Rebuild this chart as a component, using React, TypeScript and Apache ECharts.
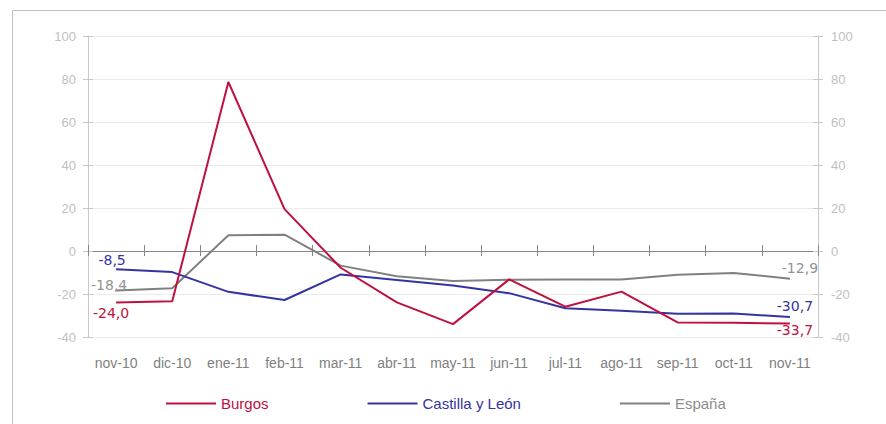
import React, { useEffect, useRef } from "react";
import * as echarts from "echarts";

const categories = ["nov-10", "dic-10", "ene-11", "feb-11", "mar-11", "abr-11", "may-11", "jun-11", "jul-11", "ago-11", "sep-11", "oct-11", "nov-11"];
const burgos = [-24.0, -23.4, 78.6, 19.5, -7.8, -23.9, -34.0, -13.2, -25.9, -18.9, -33.2, -33.4, -33.7];
const castilla = [-8.5, -9.8, -19.0, -22.8, -10.9, -13.5, -16.0, -19.6, -26.6, -27.8, -29.2, -29.1, -30.7];
const espana = [-18.4, -17.3, 7.3, 7.6, -6.8, -11.7, -14.0, -13.4, -13.2, -13.2, -11.0, -10.2, -12.9];
const seriesNames = ["Burgos", "Castilla y León", "España"];
const colors = ["#C0103F", "#3434A0", "#808080"];
const labelColors = ["#C0103F", "#3434A0", "#939393"];
const yTicks = { min: -40, max: 100, interval: 20 };

const fmt = (v: number) => v.toFixed(1).replace(".", ",");

export default function App() {
  const ref = useRef<HTMLDivElement>(null);
  useEffect(() => {
    if (!ref.current) return;
    const chart = echarts.init(ref.current, null, { renderer: "svg" });
    const raw = [burgos, castilla, espana];
    const firstPos: any[] = [
      { position: "bottom", offset: [-5, -2] },
      { position: "top", offset: [-4, 3] },
      { position: "top", offset: [-7, 6] },
    ];
    const lastPos: any[] = [
      { position: "bottom", offset: [5, -5] },
      { position: "top", offset: [5, 1] },
      { position: "top", offset: [10, 1] },
    ];
    const series = raw.map((arr, si) => ({
      name: seriesNames[si],
      type: "line",
      xAxisIndex: 0,
      yAxisIndex: 0,
      symbol: "circle",
      symbolSize: 0,
      showSymbol: true,
      lineStyle: { width: 2, color: colors[si] },
      itemStyle: { color: colors[si] },
      z: 3 - si,
      data: arr.map((v, i) => {
        if (i === 0 || i === arr.length - 1) {
          const p = i === 0 ? firstPos[si] : lastPos[si];
          return {
            value: v,
            label: {
              show: true,
              position: p.position,
              offset: p.offset,
              formatter: () => fmt(v),
              color: labelColors[si],
              fontFamily: "DejaVu Sans",
              fontSize: 14,
            },
          };
        }
        return v;
      }),
    }));

    const yCommon = {
      type: "value",
      min: yTicks.min,
      max: yTicks.max,
      interval: yTicks.interval,
    };
    const axisGray = "#C8C8C8";

    chart.setOption({
      animation: false,
      backgroundColor: "#ffffff",
      grid: { left: 88, right: 68, top: 36, bottom: 87 },
      graphic: [
        {
          type: "rect",
          shape: { x: 12.5, y: 10.5, width: 900, height: 500 },
          style: { fill: "none", stroke: "#C0C0C0", lineWidth: 1 },
          silent: true,
        },
      ],
      legend: {
        left: 166,
        top: 396,
        padding: 0,
        icon: "rect",
        itemWidth: 50,
        itemHeight: 2,
        itemGap: 99,
        textStyle: { fontFamily: "Liberation Sans", fontSize: 15 },
        data: seriesNames.map((n, i) => ({ name: n, textStyle: { color: colors[i] === "#808080" ? "#8C8C8C" : colors[i] } })),
      },
      xAxis: [
        {
          type: "category",
          data: categories,
          position: "bottom",
          boundaryGap: true,
          axisLine: { show: true, onZero: true, lineStyle: { color: "#868686", width: 1 } },
          axisTick: { show: true, inside: false, length: 5, interval: 0, lineStyle: { color: "#868686" } },
          axisLabel: { show: false },
          splitLine: { show: false },
        },
        {
          type: "category",
          data: categories,
          position: "bottom",
          boundaryGap: true,
          axisLine: { show: false, onZero: true },
          axisTick: { show: true, inside: true, length: 6, interval: 0, lineStyle: { color: "#868686" } },
          axisLabel: { show: false },
          splitLine: { show: false },
        },
        {
          type: "category",
          data: categories,
          position: "bottom",
          boundaryGap: true,
          axisLine: { show: false, onZero: false },
          axisTick: { show: false },
          axisLabel: { show: true, interval: 0, color: "#7F7F7F", fontFamily: "Liberation Sans", fontSize: 14, margin: 19 },
          splitLine: { show: false },
        },
      ],
      yAxis: [
        {
          ...yCommon,
          position: "left",
          axisLine: { show: true, lineStyle: { color: axisGray } },
          axisTick: { show: true, inside: false, length: 5, lineStyle: { color: axisGray } },
          axisLabel: { color: "#BFBFBF", fontFamily: "Liberation Sans", fontSize: 13, margin: 12 },
          splitLine: { show: true, lineStyle: { color: "#EBEBEB", width: 1 } },
        },
        {
          ...yCommon,
          position: "left",
          axisLine: { show: false },
          axisTick: { show: true, inside: true, length: 5, lineStyle: { color: axisGray } },
          axisLabel: { show: false },
          splitLine: { show: false },
        },
        {
          ...yCommon,
          position: "right",
          axisLine: { show: true, lineStyle: { color: axisGray } },
          axisTick: { show: true, inside: false, length: 5, lineStyle: { color: axisGray } },
          axisLabel: { color: "#BFBFBF", fontFamily: "Liberation Sans", fontSize: 13, margin: 13 },
          splitLine: { show: false },
        },
        {
          ...yCommon,
          position: "right",
          axisLine: { show: false },
          axisTick: { show: true, inside: true, length: 5, lineStyle: { color: axisGray } },
          axisLabel: { show: false },
          splitLine: { show: false },
        },
      ],
      series,
    });
    return () => chart.dispose();
  }, []);

  return (
    <div
      ref={ref}
      style={{ position: "fixed", left: 0, top: 0, width: 886, height: 424, background: "#fff" }}
    />
  );
}
